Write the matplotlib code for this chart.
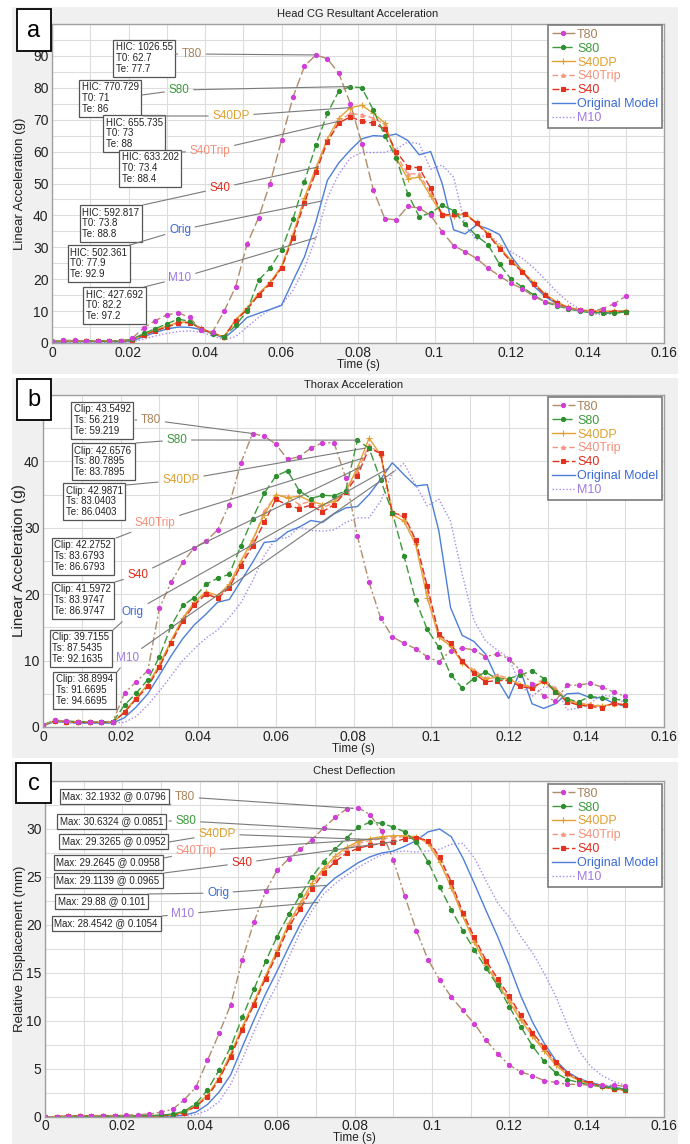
import matplotlib
matplotlib.use("Agg")
import matplotlib.pyplot as plt
import matplotlib.transforms as mtransforms
from matplotlib.patches import Rectangle
from matplotlib.ticker import MultipleLocator, FuncFormatter
import numpy as np

plt.rcParams['font.family'] = ['Liberation Sans', 'DejaVu Sans']

W, H = 690, 1144

# -- Sample times (ms), shared by every curve --
time_ms = [0, 3, 6, 9, 12, 15, 18, 21, 24, 27,
           30, 33, 36, 39, 42, 45, 48, 51, 54, 57,
           60, 63, 66, 69, 72, 75, 78, 81, 84, 87,
           90, 93, 96, 99, 102, 105, 108, 111, 114, 117,
           120, 123, 126, 129, 132, 135, 138, 141, 144, 147,
           150]
time_s = np.array(time_ms) / 1000.0

names = ['T80', 'S80', 'S40DP', 'S40Trip', 'S40', 'Original Model', 'M10']
short = ['T80', 'S80', 'S40DP', 'S40Trip', 'S40', 'Orig', 'M10']

# -- a: Head CG resultant acceleration (g) --
head_t80 = [0.5, 0.8, 0.8, 0.7, 0.7, 0.7, 0.6, 1.5, 4.8, 7.0,
            8.8, 9.5, 8.0, 4.0, 3.5, 10.0, 17.6, 31.0, 39.3, 50.0,
            63.6, 77.0, 86.8, 90.3, 89.1, 84.5, 75.0, 62.5, 48.0, 39.0,
            38.6, 42.8, 42.3, 40.0, 34.9, 30.5, 28.6, 26.5, 23.5, 21.0,
            18.7, 17.0, 14.5, 13.0, 12.0, 10.9, 10.2, 9.8, 10.8, 12.3,
            14.7]
head_s80 = [0.5, 0.8, 0.7, 0.7, 0.6, 0.6, 0.6, 1.2, 3.0, 4.5,
            6.0, 7.5, 6.8, 4.2, 2.8, 2.0, 5.5, 10.0, 19.7, 23.4,
            29.2, 38.8, 50.6, 62.1, 72.0, 79.0, 80.4, 80.0, 73.0, 65.0,
            58.0, 46.8, 39.6, 40.8, 43.2, 41.5, 37.2, 33.6, 30.8, 24.7,
            20.0, 17.5, 15.0, 12.8, 11.6, 10.7, 10.0, 9.5, 9.4, 9.3,
            9.8]
head_s40dp = [0.4, 0.7, 0.6, 0.6, 0.6, 0.6, 0.5, 1.1, 2.7, 4.0,
              5.3, 6.5, 6.6, 4.6, 3.0, 2.0, 7.3, 11.0, 15.5, 19.0,
              24.0, 34.0, 45.5, 55.0, 64.0, 70.5, 73.8, 74.5, 72.0, 69.0,
              58.0, 51.5, 52.0, 46.0, 40.0, 39.8, 40.5, 37.8, 34.3, 30.0,
              26.0, 22.5, 18.8, 15.3, 12.8, 11.2, 10.4, 10.1, 10.0, 10.0,
              10.0]
head_s40trip = [0.4, 0.7, 0.6, 0.6, 0.6, 0.6, 0.5, 1.0, 2.6, 3.9,
                5.2, 6.4, 6.5, 4.6, 3.0, 2.0, 7.2, 10.8, 15.3, 18.8,
                23.8, 34.0, 45.0, 54.5, 63.5, 69.5, 72.0, 71.5, 70.5, 68.5,
                59.0, 53.0, 53.0, 47.0, 40.5, 40.0, 40.3, 37.6, 34.2, 29.8,
                25.8, 22.4, 18.7, 15.2, 12.7, 11.1, 10.3, 10.0, 9.9, 9.9,
                9.9]
head_s40 = [0.4, 0.7, 0.6, 0.6, 0.6, 0.6, 0.5, 1.0, 2.5, 3.8,
            5.0, 6.2, 6.4, 4.5, 3.0, 2.0, 7.0, 10.5, 15.0, 18.5,
            23.5, 33.0, 44.0, 53.6, 63.0, 69.0, 70.9, 69.5, 68.9, 67.1,
            60.0, 55.3, 54.9, 48.5, 40.0, 40.4, 40.5, 37.5, 34.0, 29.5,
            25.5, 22.2, 18.5, 15.0, 12.5, 11.0, 10.2, 9.9, 9.8, 9.8,
            9.8]
head_orig = [0.2, 0.4, 0.4, 0.4, 0.4, 0.4, 0.3, 0.6, 2.0, 3.3,
             4.4, 5.0, 4.9, 4.2, 3.0, 1.5, 4.5, 8.0, 9.3, 10.5,
             11.8, 19.5, 27.0, 38.0, 51.0, 56.5, 60.5, 64.0, 65.0, 64.8,
             65.5, 63.5, 59.0, 60.0, 50.0, 35.5, 34.2, 37.0, 35.8, 34.0,
             27.3, 22.5, 17.8, 14.5, 12.3, 10.8, 10.0, 9.7, 9.6, 9.8,
             10.2]
head_m10 = [0.1, 0.2, 0.2, 0.2, 0.2, 0.2, 0.2, 0.4, 1.2, 2.2,
            3.0, 3.6, 3.8, 3.4, 2.2, 1.0, 2.0, 5.0, 8.0, 10.5,
            11.9, 16.5, 23.5, 33.0, 45.5, 53.0, 58.0, 59.8, 59.7, 59.8,
            60.8, 63.0, 62.5, 54.5, 55.8, 52.0, 37.0, 32.3, 34.4, 31.0,
            28.6, 26.5, 23.5, 19.8, 16.0, 12.8, 10.6, 9.3, 8.8, 9.3,
            9.8]

# -- b: Thorax acceleration (g) --
thorax_t80 = [0.3, 1.0, 0.9, 0.8, 0.8, 0.8, 0.8, 5.1, 6.8, 8.5,
              17.9, 21.8, 24.8, 27.0, 28.0, 29.7, 33.5, 39.8, 44.2, 43.8,
              42.6, 40.3, 40.7, 42.0, 42.8, 42.8, 37.5, 28.8, 21.8, 16.4,
              13.6, 12.6, 11.8, 10.6, 9.8, 11.5, 11.9, 11.6, 10.6, 11.0,
              10.3, 8.5, 6.5, 4.7, 3.9, 6.3, 6.3, 6.6, 6.0, 5.3,
              4.6]
thorax_s80 = [0.3, 1.0, 0.9, 0.8, 0.8, 0.8, 0.8, 3.3, 5.1, 7.1,
              10.6, 15.2, 18.3, 19.5, 21.5, 22.4, 23.0, 27.3, 31.4, 35.2,
              37.8, 38.6, 35.6, 34.4, 34.9, 34.8, 35.6, 43.2, 42.0, 37.2,
              32.3, 25.8, 19.1, 14.7, 12.0, 7.9, 5.9, 7.3, 8.3, 7.2,
              7.3, 7.8, 8.5, 7.3, 5.3, 4.2, 3.8, 4.6, 4.4, 4.2,
              4.0]
thorax_s40dp = [0.3, 0.9, 0.8, 0.7, 0.7, 0.7, 0.7, 2.3, 4.4, 6.4,
                9.4, 13.0, 16.4, 18.8, 20.4, 19.8, 21.5, 25.0, 28.2, 32.0,
                35.0, 34.5, 34.8, 34.0, 33.5, 34.0, 35.5, 39.0, 43.5, 41.0,
                32.0, 31.0, 27.5, 19.5, 13.5, 12.2, 9.7, 8.3, 7.2, 7.5,
                7.2, 6.4, 6.0, 6.8, 5.6, 4.0, 3.5, 3.3, 3.1, 3.5,
                3.4]
thorax_s40trip = [0.3, 0.9, 0.8, 0.7, 0.7, 0.7, 0.7, 2.2, 4.3, 6.3,
                  9.2, 12.8, 16.2, 18.6, 20.2, 19.6, 21.2, 24.6, 27.8, 32.5,
                  34.8, 34.8, 33.5, 34.0, 33.0, 33.8, 35.5, 38.5, 42.5, 41.0,
                  32.5, 31.5, 28.0, 20.5, 13.8, 12.4, 9.8, 8.6, 7.4, 7.8,
                  7.4, 6.3, 6.2, 7.2, 5.8, 4.2, 3.6, 3.4, 3.2, 3.4,
                  3.3]
thorax_s40 = [0.3, 0.9, 0.8, 0.7, 0.7, 0.7, 0.7, 2.2, 4.2, 6.1,
              9.0, 12.6, 16.0, 18.4, 20.0, 19.4, 21.0, 24.3, 27.3, 30.8,
              34.3, 33.4, 32.9, 33.4, 32.4, 33.5, 35.4, 37.8, 42.0, 41.2,
              32.2, 31.9, 28.2, 21.2, 14.0, 12.6, 9.9, 8.1, 6.8, 7.0,
              7.0, 6.1, 5.8, 7.0, 5.3, 3.8, 3.3, 3.1, 2.9, 3.6,
              3.3]
thorax_orig = [0.2, 0.8, 0.7, 0.6, 0.6, 0.6, 0.6, 1.4, 3.0, 5.0,
               7.8, 10.7, 13.3, 15.4, 17.0, 18.8, 19.2, 22.0, 24.8, 27.8,
               28.0, 29.4, 30.1, 31.1, 30.8, 32.1, 33.0, 33.2, 35.0, 37.3,
               39.8, 38.0, 36.3, 36.5, 29.5, 18.0, 13.8, 12.9, 11.0, 7.2,
               4.3, 8.5, 3.5, 2.8, 3.5, 5.0, 5.1, 4.4, 4.4, 3.6,
               3.1]
thorax_m10 = [0.2, 0.8, 0.7, 0.6, 0.6, 0.6, 0.6, 0.7, 1.6, 3.3,
              5.4, 7.7, 10.0, 11.8, 13.4, 14.6, 16.5, 18.7, 22.0, 25.8,
              28.4, 28.5, 30.1, 29.6, 29.5, 29.7, 30.8, 31.5, 31.5, 34.0,
              38.3, 39.7, 36.5, 33.3, 34.3, 31.0, 23.0, 16.1, 13.0, 11.6,
              10.4, 6.3, 4.6, 6.0, 6.0, 2.6, 2.8, 3.6, 4.8, 4.6,
              3.6]

# -- c: Chest deflection (mm) --
chest_t80 = [0.0, 0.05, 0.1, 0.15, 0.15, 0.15, 0.15, 0.2, 0.25, 0.3,
             0.5, 0.8, 1.8, 3.1, 5.9, 8.7, 11.7, 16.4, 20.3, 23.5,
             25.7, 26.9, 27.9, 28.9, 30.1, 31.2, 32.1, 32.2, 31.5, 29.8,
             26.8, 23.0, 19.4, 16.4, 14.3, 12.5, 11.1, 9.7, 8.0, 6.6,
             5.4, 4.7, 4.3, 3.8, 3.6, 3.4, 3.4, 3.3, 3.3, 3.3,
             3.2]
chest_s80 = [0.0, 0.02, 0.05, 0.08, 0.1, 0.1, 0.1, 0.1, 0.12, 0.15,
             0.2, 0.3, 0.6, 1.4, 2.8, 4.9, 7.3, 10.4, 13.3, 16.2,
             18.8, 21.1, 23.1, 25.0, 26.6, 27.9, 29.1, 30.2, 30.7, 30.6,
             30.2, 29.7, 28.6, 26.6, 24.0, 21.6, 19.4, 17.4, 15.5, 13.7,
             11.5, 9.4, 7.4, 5.8, 4.6, 3.9, 3.6, 3.3, 3.2, 3.0,
             2.9]
chest_s40dp = [0.0, 0.05, 0.1, 0.12, 0.12, 0.12, 0.12, 0.12, 0.12, 0.12,
               0.15, 0.2, 0.5, 1.2, 2.3, 4.1, 6.6, 9.4, 12.0, 14.7,
               17.4, 20.2, 22.3, 24.4, 25.9, 27.2, 28.1, 28.7, 29.0, 29.2,
               29.3, 29.3, 29.2, 28.5, 26.6, 23.9, 20.9, 18.2, 15.8, 13.9,
               12.0, 10.1, 8.4, 6.9, 5.4, 4.4, 3.8, 3.4, 3.1, 2.9,
               2.8]
chest_s40trip = [0.0, 0.05, 0.1, 0.12, 0.12, 0.12, 0.12, 0.12, 0.12, 0.12,
                 0.15, 0.2, 0.48, 1.15, 2.2, 4.0, 6.5, 9.3, 11.9, 14.6,
                 17.2, 20.0, 22.0, 24.1, 25.7, 26.9, 27.9, 28.5, 28.8, 29.0,
                 29.1, 29.2, 29.2, 28.7, 26.9, 24.2, 21.1, 18.5, 16.0, 14.1,
                 12.3, 10.4, 8.6, 7.1, 5.6, 4.5, 3.9, 3.5, 3.2, 2.9,
                 2.8]
chest_s40 = [0.0, 0.05, 0.1, 0.12, 0.12, 0.12, 0.12, 0.12, 0.12, 0.12,
             0.15, 0.2, 0.45, 1.1, 2.1, 3.9, 6.3, 9.1, 11.7, 14.4,
             17.0, 19.8, 21.7, 23.8, 25.4, 26.6, 27.5, 28.0, 28.3, 28.5,
             28.6, 29.0, 29.1, 28.8, 27.1, 24.5, 21.3, 18.7, 16.3, 14.4,
             12.6, 10.6, 8.8, 7.3, 5.7, 4.6, 3.9, 3.5, 3.2, 2.9,
             2.8]
chest_orig = [0.0, 0.02, 0.04, 0.05, 0.05, 0.05, 0.05, 0.05, 0.05, 0.05,
              0.07, 0.1, 0.2, 0.5, 1.3, 2.6, 4.4, 7.3, 10.1, 12.8,
              15.2, 17.7, 20.1, 22.1, 23.8, 24.9, 25.7, 26.5, 27.1, 27.5,
              27.7, 28.2, 28.8, 29.7, 30.0, 29.2, 27.0, 24.3, 21.5, 18.8,
              15.8, 12.6, 9.9, 7.7, 5.9, 4.7, 4.0, 3.6, 3.3, 3.1,
              2.9]
chest_m10 = [0.0, 0.02, 0.03, 0.04, 0.04, 0.04, 0.04, 0.04, 0.04, 0.04,
             0.05, 0.07, 0.1, 0.25, 0.7, 1.6, 3.4, 6.0, 8.9, 11.5,
             13.8, 16.6, 19.3, 21.5, 23.2, 24.3, 25.2, 26.0, 26.7, 27.3,
             27.6, 27.7, 27.6, 27.7, 27.9, 28.4, 28.5, 27.0, 24.6, 22.3,
             20.8, 18.8, 17.1, 15.0, 12.6, 9.6, 6.9, 5.3, 4.3, 3.7,
             3.3]

# -- Annotation texts --
head_notes = ['HIC: 1026.55\nT0: 62.7\nTe: 77.7', 'HIC: 770.729\nT0: 71\nTe: 86',
              'HIC: 655.735\nT0: 73\nTe: 88', 'HIC: 633.202\nT0: 73.4\nTe: 88.4',
              'HIC: 592.817\nT0: 73.8\nTe: 88.8', 'HIC: 502.361\nT0: 77.9\nTe: 92.9',
              'HIC: 427.692\nT0: 82.2\nTe: 97.2']
thorax_notes = ['Clip: 43.5492\nTs: 56.219\nTe: 59.219', 'Clip: 42.6576\nTs: 80.7895\nTe: 83.7895',
                'Clip: 42.9871\nTs: 83.0403\nTe: 86.0403', 'Clip: 42.2752\nTs: 83.6793\nTe: 86.6793',
                'Clip: 41.5972\nTs: 83.9747\nTe: 86.9747', 'Clip: 39.7155\nTs: 87.5435\nTe: 92.1635',
                'Clip: 38.8994\nTs: 91.6695\nTe: 94.6695']
chest_notes = ['Max: 32.1932 @ 0.0796', 'Max: 30.6324 @ 0.0851', 'Max: 29.3265 @ 0.0952',
               'Max: 29.2645 @ 0.0958', 'Max: 29.1139 @ 0.0965', 'Max: 29.88 @ 0.101',
               'Max: 28.4542 @ 0.1054']

# -- Styles --
line_col = ['#b08c68', '#3c9a3c', '#e6a235', '#f7967c', '#e2321e', '#4d7fd9', '#a58ae8']
text_col = ['#a8825a', '#3c9a3c', '#e0a030', '#f5907a', '#e02a1a', '#3a6ad6', '#a07ae0']
mark_col = ['#d23fd8', '#2f8f2f', '#e0a030', '#f7967c', '#e2321e', None, None]
markers = ['o', 'o', '+', '^', 's', None, None]
msizes = [3.0, 3.0, 4.0, 2.6, 2.7, 0, 0]
lstyles = [None, (0, (6, 2.5)), '-', (0, (4, 2)), (0, (5, 2)), '-', (0, (1, 1.5))]
draw_order = [6, 5, 3, 2, 4, 1, 0]

fig = plt.figure(figsize=(W / 100, H / 100), dpi=100)
px = mtransforms.Affine2D().scale(1 / W, -1 / H).translate(0, 1) + fig.transFigure


def panel(frame, box, title, letter, letter_box, curves, notes, ytop, yticks, yminor,
          ylabel, ylabel_size, t80_ls, note_pos, legend_xy, xlabel_gap, xpad):
    fx0, fy0, fx1, fy1 = frame
    fig.patches.append(Rectangle((fx0, fy0), fx1 - fx0, fy1 - fy0, transform=px,
                                 facecolor='#f0f0f0', edgecolor='none', zorder=-5))
    l, t, r, b = box
    ax = fig.add_axes([l / W, 1 - b / H, (r - l) / W, (b - t) / H])
    ax.set_xlim(0, 0.16)
    ax.set_ylim(0, ytop)
    ax.set_xticks([0, 0.02, 0.04, 0.06, 0.08, 0.1, 0.12, 0.14, 0.16])
    ax.xaxis.set_minor_locator(MultipleLocator(0.01))
    ax.set_yticks(yticks)
    ax.yaxis.set_minor_locator(MultipleLocator(yminor))
    ax.xaxis.set_major_formatter(FuncFormatter(lambda v, p: '%g' % round(v, 3)))
    ax.yaxis.set_major_formatter(FuncFormatter(lambda v, p: '%g' % v))
    ax.grid(which='both', color='#dddddd', lw=0.8)
    ax.set_axisbelow(True)
    ax.tick_params(which='both', length=0, labelsize=10, colors='#222222', pad=2.5)
    ax.tick_params(axis='x', pad=xpad)
    for s in ax.spines.values():
        s.set_color('#a0a0a0')
        s.set_linewidth(1.0)
    ax.set_xlabel('Time (s)', fontsize=8.5, color='#222222')
    ax.set_ylabel(ylabel, fontsize=ylabel_size, color='#222222')
    ax.xaxis.set_label_coords(0.5, -(xlabel_gap / (b - t)), transform=ax.transAxes)
    ax.yaxis.set_label_coords((26 - l) / (r - l), 0.5, transform=ax.transAxes)

    handles = [None] * 7
    for i in draw_order:
        ls = t80_ls if i == 0 else lstyles[i]
        kw = dict(color=line_col[i], lw=1.0, linestyle=ls, label=names[i])
        if markers[i]:
            kw.update(marker=markers[i], ms=msizes[i], mfc=mark_col[i], mec=mark_col[i], mew=0.8)
        handles[i], = ax.plot(time_s, curves[i], **kw)

    leg = ax.legend(handles, names, loc='upper right', bbox_to_anchor=legend_xy,
                    bbox_transform=px, borderaxespad=0, fontsize=9, fancybox=False,
                    framealpha=1, edgecolor='#7a7a7a', borderpad=0.3, labelspacing=0.15,
                    handlelength=1.9, handletextpad=0.15, numpoints=1)
    leg.get_frame().set_linewidth(1.2)
    for txt, c in zip(leg.get_texts(), text_col):
        txt.set_color(c)

    for i, (bxy, lxy, axy, tt) in enumerate(note_pos):
        ax.text(bxy[0] + 2.5, bxy[1] + 2.5, notes[i], transform=px, ha='left', va='top',
                fontsize=7, color='#222222', linespacing=1.12, zorder=6,
                bbox=dict(boxstyle='square,pad=0.3', fc='white', ec='#555555', lw=0.9))
        vv = np.interp(tt, time_s, curves[i])
        arrow = dict(arrowstyle='-', color='#7a7a7a', lw=0.8, shrinkA=1, shrinkB=0)
        ax.annotate(short[i], xy=(tt, vv), xycoords='data', xytext=lxy, textcoords=px,
                    ha='center', va='center', fontsize=8.5, color=text_col[i],
                    arrowprops=arrow, zorder=7)
        ax.annotate(short[i], xy=axy, xycoords=px, xytext=lxy, textcoords=px,
                    ha='center', va='center', fontsize=8.5, color='none',
                    arrowprops=arrow, zorder=7)

    fig.text((l + r) / 2 / W, 1 - (t - 10) / H, title, ha='center', va='center',
             fontsize=8, color='#222222')
    lx0, ly0, lx1, ly1 = letter_box
    fig.patches.append(Rectangle((lx0, ly0), lx1 - lx0, ly1 - ly0, transform=px,
                                 facecolor='white', edgecolor='black', lw=1.3, zorder=8))
    fig.text((lx0 + lx1) / 2 / W, 1 - ((ly0 + ly1) / 2 + 1) / H, letter, ha='center',
             va='center', fontsize=17, color='black', zorder=9)
    return ax


# box left/top, label centre, box anchor point, target time (pixel layout)
head_pos = [((113, 40), (192, 54), (176, 54), 0.069),
            ((79, 80), (179, 90), (142, 95), 0.078),
            ((103, 115), (231, 116), (143, 116), 0.078),
            ((119, 150), (210, 151), (182, 152), 0.075),
            ((80, 205), (220, 188), (143, 205), 0.0695),
            ((68, 245), (180, 230), (130, 245), 0.0705),
            ((83, 287), (180, 278), (144, 287), 0.069)]
thorax_pos = [((71, 402), (151, 420), (135, 420), 0.054),
              ((72, 443), (177, 440), (136, 443), 0.081),
              ((63, 483), (181, 480), (126, 485), 0.083),
              ((52, 538), (155, 523), (116, 538), 0.0825),
              ((52, 582), (138, 575), (115, 582), 0.082),
              ((50, 630), (133, 612), (113, 630), 0.089),
              ((53, 672), (128, 658), (117, 672), 0.0905)]
chest_pos = [((60, 789), (185, 797), (169, 805), 0.0796),
             ((57, 814), (186, 821), (169, 821), 0.080),
             ((59, 834), (217, 834), (169, 842), 0.0832),
             ((54, 855), (196, 851), (164, 858), 0.087),
             ((54, 873), (242, 863), (164, 873), 0.091),
             ((55, 894), (218, 893), (148, 894), 0.0729),
             ((52, 916), (183, 914), (162, 916), 0.0705)]

ax_a = panel((12, 7, 678, 374), (52, 24, 664, 343), 'Head CG Resultant Acceleration', 'a',
             (17, 9, 51, 51),
             [head_t80, head_s80, head_s40dp, head_s40trip, head_s40, head_orig, head_m10],
             head_notes, 100, [0, 10, 20, 30, 40, 50, 60, 70, 80, 90], 5,
             'Linear Acceleration (g)', 9.5, (0, (7, 2.5)), head_pos, (662, 25), 16, 2.5)
ax_b = panel((12, 378, 678, 758), (43, 395, 664, 727), 'Thorax Acceleration', 'b',
             (17, 379, 51, 420),
             [thorax_t80, thorax_s80, thorax_s40dp, thorax_s40trip, thorax_s40, thorax_orig, thorax_m10],
             thorax_notes, 50, [0, 10, 20, 30, 40], 5,
             'Linear Acceleration (g)', 11, (0, (6, 2, 1.5, 2)), thorax_pos, (662, 397), 16, 2.5)
ax_c = panel((12, 762, 678, 1144), (45, 781, 664, 1117), 'Chest Deflection', 'c',
             (16, 763, 51, 803),
             [chest_t80, chest_s80, chest_s40dp, chest_s40trip, chest_s40, chest_orig, chest_m10],
             chest_notes, 35, [0, 5, 10, 15, 20, 25, 30], 2.5,
             'Relative Displacement (mm)', 9.5, (0, (6, 2, 1.5, 2)), chest_pos, (662, 784), 14.5, 1.2)

fig.savefig('out.png', dpi=100)
